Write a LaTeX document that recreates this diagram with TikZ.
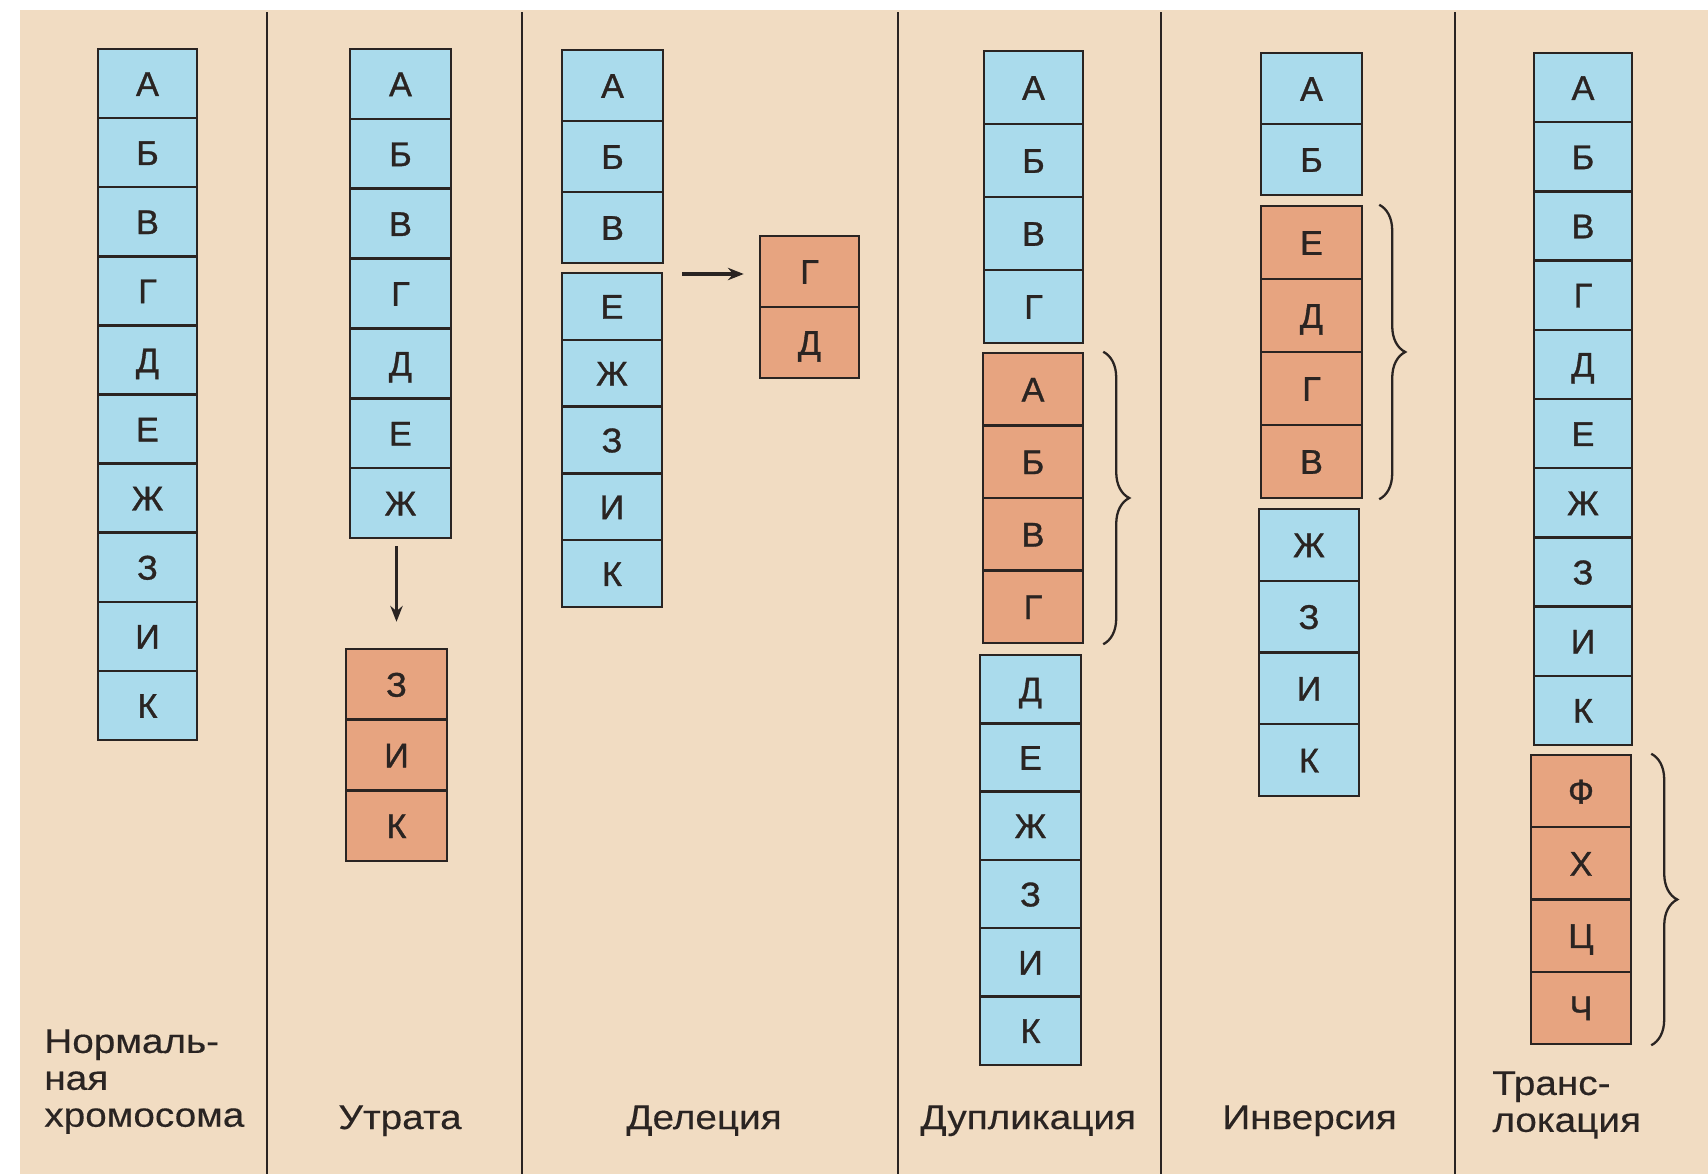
\documentclass[tikz,border=0pt]{standalone}
\usepackage{fontspec}
\setmainfont{Liberation Sans}
\newfontfamily\labelfont[FakeStretch=1.13,FakeBold=0.3]{Liberation Sans}
\newfontfamily\cellfont[FakeBold=1.0]{Liberation Sans}
\usetikzlibrary{arrows.meta,decorations.pathreplacing}
\definecolor{pagebg}{RGB}{241,220,194}
\definecolor{cellblue}{RGB}{170,219,236}
\definecolor{cellorange}{RGB}{231,164,128}
\definecolor{inkdark}{RGB}{42,36,34}
% name, cx, top, cell height, width, style, letters
\newcommand\chromcol[7]{%
  \foreach \l [count=\i] in {#7} {%
    \node[#6, minimum height={#4*0.02cm}, minimum width={#5*0.02cm}] (#1-\i) at (#2,{#3+(\i-0.5)*#4}) {\l};
  }}
\tikzset{
  cellbase/.style={draw=inkdark, line width=1.4pt, inner sep=0pt, text=inkdark,
    font=\cellfont\fontsize{19.5}{19.5}\selectfont, text height=14pt, text depth=0pt},
  bluecell/.style={cellbase, fill=cellblue},
  orangecell/.style={cellbase, fill=cellorange},
  sepline/.style={draw=inkdark, line width=1.6pt},
  arr/.style={draw=inkdark, line width=1.8pt, -{Stealth[length=9pt,width=7pt]}},
  bracestyle/.style={draw=inkdark, line width=1.3pt, decorate, decoration={brace, amplitude=0.52cm}},
  lbl/.style={inner sep=0pt, text=inkdark, align=left, font=\labelfont\fontsize{19.5}{21}\selectfont},
}
\begin{document}
\begin{tikzpicture}[x=0.02cm, y=-0.02cm]
\useasboundingbox (0,0) rectangle (1708,1174);
\fill[white] (0,0) rectangle (1708,1174);
\fill[pagebg] (20,10) rectangle (1708,1174);
% separators
\foreach \sx in {267,522,898,1161,1455} \draw[sepline] (\sx,12) -- (\sx,1174);
% column 1
\chromcol{c1}{147.5}{49}{69.1}{99}{bluecell}{А,Б,В,Г,Д,Е,Ж,З,И,К}
% column 2
\chromcol{c2a}{400.5}{49}{69.86}{101}{bluecell}{А,Б,В,Г,Д,Е,Ж}
\chromcol{c2b}{396.5}{649}{70.7}{101}{orangecell}{З,И,К}
% column 3
\chromcol{c3a}{612.5}{50}{71}{101}{bluecell}{А,Б,В}
\chromcol{c3b}{612}{273}{66.8}{100}{bluecell}{Е,Ж,З,И,К}
\chromcol{c3c}{809.5}{236}{71}{99}{orangecell}{Г,Д}
% column 4
\chromcol{c4a}{1033.5}{51}{73}{99}{bluecell}{А,Б,В,Г}
\chromcol{c4b}{1033}{353}{72.5}{100}{orangecell}{А,Б,В,Г}
\chromcol{c4c}{1030.5}{655}{68.3}{101}{bluecell}{Д,Е,Ж,З,И,К}
% column 5
\chromcol{c5a}{1311.5}{53}{71}{101}{bluecell}{А,Б}
\chromcol{c5b}{1311.5}{206}{73}{101}{orangecell}{Е,Д,Г,В}
\chromcol{c5c}{1309}{509}{71.75}{100}{bluecell}{Ж,З,И,К}
% column 6
\chromcol{c6a}{1583}{53}{69.2}{98}{bluecell}{А,Б,В,Г,Д,Е,Ж,З,И,К}
\chromcol{c6b}{1581}{755}{72.25}{100}{orangecell}{Ф,Х,Ц,Ч}
% arrows
\draw[arr, shorten <=0.14cm, shorten >=0.52cm] (c2b-1.north |- c2a-7.south) -- (c2b-1.north);
\coordinate (gap) at (663,274);
\draw[arr, shorten <=0.38cm, shorten >=0.3cm] (gap) -- (gap -| c3c-1.west);
% braces
\draw[bracestyle] ([xshift=0.38cm]c4b-1.north east) -- ([xshift=0.38cm]c4b-4.south east);
\draw[bracestyle] ([xshift=0.32cm]c5b-1.north east) -- ([xshift=0.32cm]c5b-4.south east);
\draw[bracestyle] ([xshift=0.38cm]c6b-1.north east) -- ([xshift=0.38cm]c6b-4.south east);
% labels
\node[lbl, anchor=north west] (l1) at (44,1029) {Нормаль-\\ная\\хромосома};
\node[lbl, anchor=base west] (l2) at (338,1129) {Утрата};
\node[lbl, anchor=base west] (l3) at (626,1129) {Делеция};
\node[lbl, anchor=base west] (l4) at (920,1129) {Дупликация};
\node[lbl, anchor=base west] (l5) at (1222,1129) {Инверсия};
\node[lbl, anchor=north west] (l6) at (1492,1071) {Транс-\\локация};
\end{tikzpicture}
\end{document}
